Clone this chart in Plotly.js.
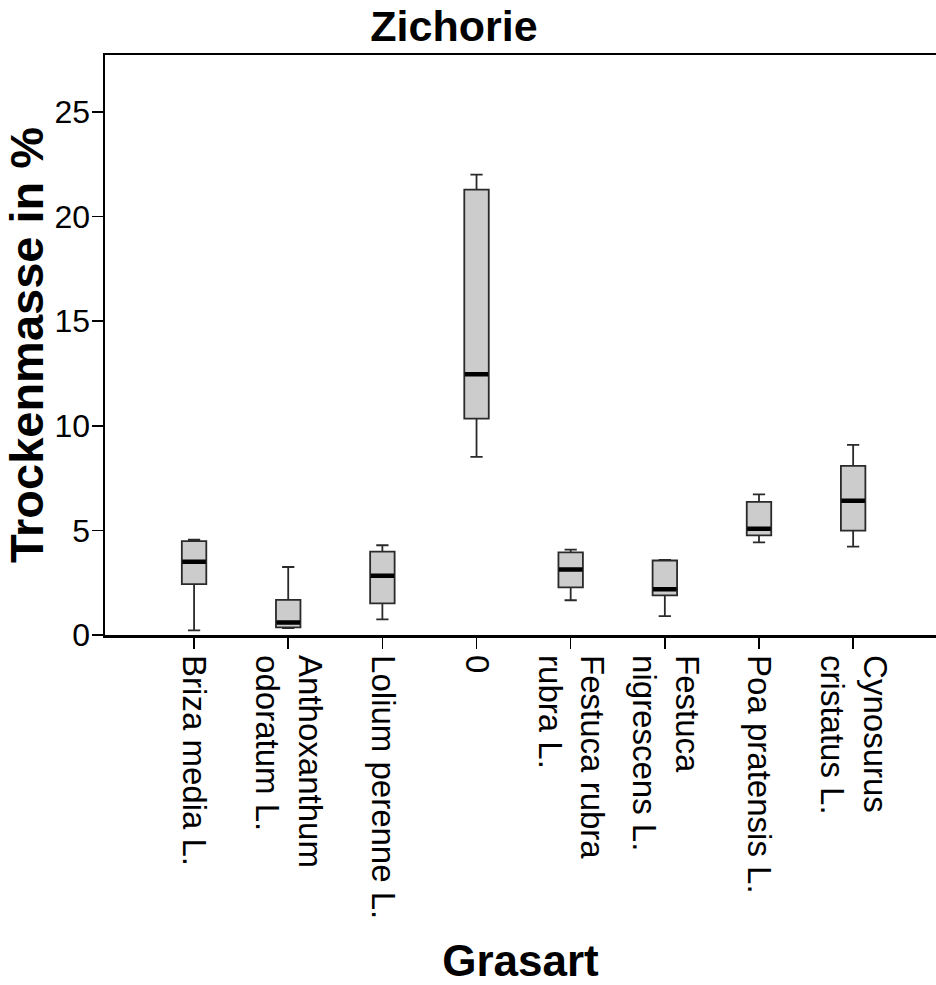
<!DOCTYPE html>
<html>
<head>
<meta charset="utf-8">
<script src="https://cdn.plot.ly/plotly-3.0.1.min.js"></script>
<style>html,body{margin:0;padding:0;background:#fff;}#chart{width:936px;height:985px;}</style>
</head>
<body>
<div id="chart"></div>
<script>
var categories = ["Briza media L.", "Anthoxanthum<br>odoratum L.", "Lolium perenne L.", "0", "Festuca rubra<br>rubra L.", "Festuca<br>nigrescens L.", "Poa pratensis L.", "Cynosurus<br>cristatus L."];
var lowerWhisker = [0.22, 0.33, 0.75, 8.51, 1.66, 0.90, 4.43, 4.22];
var q1Values     = [2.43, 0.36, 1.51, 10.34, 2.28, 1.89, 4.76, 4.99];
var medianValues = [3.50, 0.60, 2.83, 12.46, 3.13, 2.19, 5.08, 6.42];
var q3Values     = [4.49, 1.68, 3.98, 21.29, 3.95, 3.56, 6.36, 8.08];
var upperWhisker = [4.56, 3.25, 4.29, 22.00, 4.08, 3.59, 6.72, 9.09];
var yTicks = [0, 5, 10, 15, 20, 25];

var fontFam = "Liberation Sans, Arial, sans-serif";

var boxes = {
  type: "box",
  x: categories,
  q1: q1Values,
  median: medianValues,
  q3: q3Values,
  lowerfence: lowerWhisker,
  upperfence: upperWhisker,
  fillcolor: "#cccccc",
  line: {color: "#2a2a2a", width: 1.8},
  width: 0.26,
  whiskerwidth: 0.5,
  boxpoints: false,
  hoverinfo: "skip",
  showlegend: false
};
var medians = {
  type: "box",
  x: categories,
  q1: medianValues,
  median: medianValues,
  q3: medianValues,
  lowerfence: medianValues,
  upperfence: medianValues,
  fillcolor: "rgba(0,0,0,0)",
  line: {color: "#000000", width: 4.5},
  width: 0.25,
  whiskerwidth: 0,
  boxpoints: false,
  hoverinfo: "skip",
  showlegend: false
};

var layout = {
  width: 936,
  height: 985,
  margin: {l: 105, r: 0, t: 55, b: 350},
  paper_bgcolor: "#ffffff",
  plot_bgcolor: "#ffffff",
  boxmode: "overlay",
  font: {family: fontFam, color: "#000000"},
  title: {
    text: "<b>Zichorie</b>",
    font: {family: fontFam, size: 43, color: "#000"},
    x: 0.485, xanchor: "center",
    y: 0.989, yanchor: "top"
  },
  xaxis: {
    type: "category",
    range: [-0.946, 7.88],
    showline: true, linecolor: "#000", linewidth: 2.5,
    mirror: true,
    showgrid: false, zeroline: false,
    ticks: "outside", ticklen: 11, tickwidth: 1.5, tickcolor: "#000",
    tickangle: 90,
    tickfont: {family: fontFam, size: 33, color: "#000"},
    title: {text: "<b>Grasart</b>", font: {family: fontFam, size: 44, color: "#000"}, standoff: 30}
  },
  yaxis: {
    range: [0, 27.72],
    tickvals: yTicks,
    ticktext: yTicks.map(String),
    showline: true, linecolor: "#000", linewidth: 2.5,
    showgrid: false, zeroline: false,
    ticks: "outside", ticklen: 11, tickwidth: 1.5, tickcolor: "#000",
    ticklabelstandoff: -5,
    tickfont: {family: fontFam, size: 32, color: "#000"},
    title: {text: "<b>Trockenmasse in %</b>", font: {family: fontFam, size: 47, color: "#000"}, standoff: 2}
  }
};

Plotly.newPlot("chart", [boxes, medians], layout, {displayModeBar: false, staticPlot: true});
</script>
</body>
</html>
